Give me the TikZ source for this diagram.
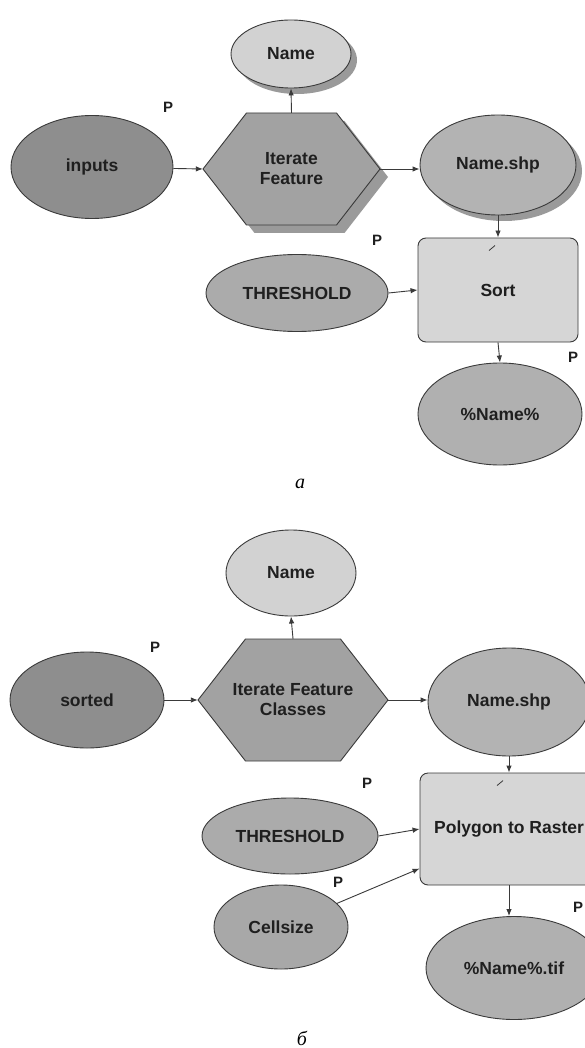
\documentclass[tikz,border=0pt]{standalone}
\usepackage{fontspec}
\setmainfont{Liberation Sans}
\newfontfamily\capfont{Liberation Serif}
\usetikzlibrary{shapes.geometric,arrows.meta,shadows,calc}
\definecolor{linec}{HTML}{3A3A3A}
\definecolor{darkf}{HTML}{8E8E8E}
\definecolor{hexf}{HTML}{A2A2A2}
\definecolor{shpf}{HTML}{B3B3B3}
\definecolor{namef}{HTML}{D2D2D2}
\definecolor{boxf}{HTML}{D6D6D6}
\definecolor{thrf}{HTML}{ABABAB}
\definecolor{outf}{HTML}{B0B0B0}
\definecolor{cellf}{HTML}{A8A8A8}
\definecolor{shadc}{HTML}{9A9A9A}
\begin{document}
\begin{tikzpicture}[x=1pt,y=-1pt,
  lbl/.style={font=\fontsize{17.5}{20}\selectfont\bfseries, text=black!88, align=center},
  elp/.style n args={3}{ellipse, draw=linec, line width=0.9pt, inner sep=0pt,
     minimum width=#1, minimum height=#2, fill=#3, lbl},
  shad/.style={drop shadow={shadow xshift=6pt, shadow yshift=-6pt, fill=shadc, opacity=1}},
  hexbox/.style 2 args={rectangle, inner sep=0pt, minimum width=#1, minimum height=#2, lbl},
  procbox/.style 2 args={rectangle, rounded corners=8pt, draw=linec, line width=0.9pt,
     fill=boxf, minimum width=#1, minimum height=#2, inner sep=0pt, lbl},
  hexshape/.style={draw=linec, line width=0.9pt, fill=hexf},
  plbl/.style={font=\fontsize{15}{15}\selectfont\bfseries, text=black!88},
  captxt/.style={font=\capfont\itshape\fontsize{20}{20}\selectfont},
  conn/.style={draw=linec, line width=0.9pt, -{Latex[length=7pt,width=5.5pt]}},
  tickln/.style={draw=linec, line width=0.8pt}
]
\useasboundingbox (0,0) rectangle (585,1048);
\clip (0,0) rectangle (585,1048);
\fill[white] (0,0) rectangle (585,1048);

% ================= part a =================
% hexagon a (with shadow)
\coordinate (hAc) at (291.5,169);
\fill[shadc] ($(hAc)+(-88.5+8,8)$) -- ($(hAc)+(-45+8,-56+8)$) -- ($(hAc)+(45+8,-56+8)$)
   -- ($(hAc)+(88.5+8,8)$) -- ($(hAc)+(45+8,56+8)$) -- ($(hAc)+(-45+8,56+8)$) -- cycle;
\path[hexshape] ($(hAc)+(-88.5,0)$) -- ($(hAc)+(-45,-56)$) -- ($(hAc)+(45,-56)$)
   -- ($(hAc)+(88.5,0)$) -- ($(hAc)+(45,56)$) -- ($(hAc)+(-45,56)$) -- cycle;
\node[hexbox={177pt}{112pt}] (hexA) at (hAc) {Iterate\\Feature};

\node[elp={120pt}{68pt}{namef}, shad] (nameA) at (291,54) {Name};
\node[elp={162pt}{103pt}{darkf}] (inputs) at (92,167) {inputs};
\node[elp={156pt}{100pt}{shpf}, shad] (shpA) at (498,165) {Name.shp};
\node[elp={182pt}{77pt}{thrf}] (thrA) at (297,293) {THRESHOLD};
\node[procbox={160pt}{104pt}] (sortA) at (498,290) {Sort};
\node[elp={164pt}{102pt}{outf}] (outA) at (500,414) {\%Name\%};

\node[plbl] (pA1) at (168,107) {P};
\node[plbl] (pA2) at (377,240) {P};
\node[plbl] (pA3) at (573,357) {P};
\node[captxt] (capA) at (300,484) {a};

\draw[conn] (inputs) -- (hexA.west);
\draw[conn] (hexA.north) -- (nameA.south);
\draw[conn] (hexA.east) -- (hexA.east -| shpA.west);
\draw[conn] (shpA.south) -- (sortA.north);
\draw[conn] (thrA.east) -- (sortA.west);
\draw[conn] (sortA.south) -- (outA.north);
\draw[tickln] ($(sortA.north)+(-9,13)$) -- ++(6,-5);

% ================= part b =================
\coordinate (hBc) at (293,700);
\path[hexshape] ($(hBc)+(-95,0)$) -- ($(hBc)+(-47.5,-61)$) -- ($(hBc)+(47.5,-61)$)
   -- ($(hBc)+(95,0)$) -- ($(hBc)+(47.5,61)$) -- ($(hBc)+(-47.5,61)$) -- cycle;
\node[hexbox={190pt}{122pt}] (hexB) at (hBc) {Iterate Feature\\Classes};

\node[elp={130pt}{86pt}{namef}] (nameB) at (291,573) {Name};
\node[elp={154pt}{96pt}{darkf}] (sorted) at (87,700) {sorted};
\node[elp={162pt}{108pt}{shpf}] (shpB) at (509,702) {Name.shp};
\node[elp={176pt}{76pt}{thrf}] (thrB) at (290,836) {THRESHOLD};
\node[elp={134pt}{84pt}{cellf}] (cell) at (281,927) {Cellsize};
\node[procbox={178pt}{112pt}] (polyB) at (509,829) {Polygon to Raster};
\node[elp={176pt}{103pt}{outf}] (outB) at (514,968) {\%Name\%.tif};

\node[plbl] (pB1) at (155,647) {P};
\node[plbl] (pB2) at (367,783) {P};
\node[plbl] (pB3) at (338,882) {P};
\node[plbl] (pB4) at (578,907) {P};
\node[captxt] (capB) at (302,1038) {б};

\coordinate (cellIn) at ($(polyB.south west)!0.15!(polyB.north west)$);
\draw[conn] (sorted) -- (hexB.west);
\draw[conn] (hexB.north) -- (nameB.south);
\draw[conn] (hexB.east) -- (hexB.east -| shpB.west);
\draw[conn] (shpB.south) -- (polyB.north);
\draw[conn] (thrB.east) -- (polyB.west);
\draw[conn] (cell) -- (cellIn);
\draw[conn] (polyB.south) -- (polyB.south |- outB.north);
\draw[tickln] ($(polyB.north)+(-12,13)$) -- ++(6,-5);
\end{tikzpicture}
\end{document}
